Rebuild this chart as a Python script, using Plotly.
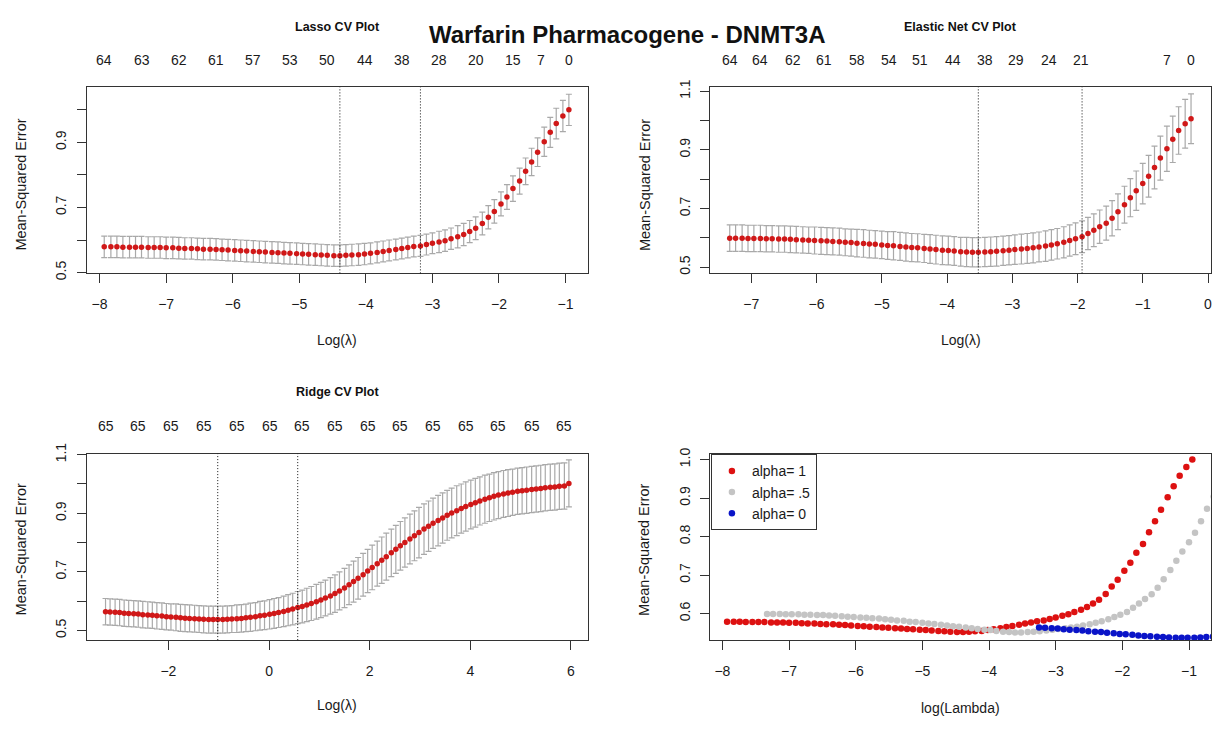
import plotly.graph_objects as go

# ---------------- data ----------------
# Lasso (alpha = 1): log(lambda), CV mean-squared error, standard error
lasso_loglam = [-0.95, -1.04, -1.14, -1.23, -1.32, -1.42, -1.51, -1.60, -1.69, -1.79,
                -1.88, -1.97, -2.07, -2.16, -2.25, -2.35, -2.44, -2.53, -2.62, -2.72,
                -2.81, -2.90, -3.00, -3.09, -3.18, -3.28, -3.37, -3.46, -3.55, -3.65,
                -3.74, -3.83, -3.93, -4.02, -4.11, -4.21, -4.30, -4.39, -4.48, -4.58,
                -4.67, -4.76, -4.86, -4.95, -5.04, -5.14, -5.23, -5.32, -5.41, -5.51,
                -5.60, -5.69, -5.79, -5.88, -5.97, -6.07, -6.16, -6.25, -6.34, -6.44,
                -6.53, -6.62, -6.72, -6.81, -6.90, -7.00, -7.09, -7.18, -7.27, -7.37,
                -7.46, -7.55, -7.65, -7.74, -7.83, -7.93]
lasso_cvm = [1.000, 0.981, 0.958, 0.931, 0.902, 0.870, 0.840, 0.811, 0.781, 0.758,
             0.732, 0.711, 0.688, 0.670, 0.651, 0.636, 0.626, 0.617, 0.610, 0.604,
             0.598, 0.594, 0.590, 0.586, 0.582, 0.580, 0.577, 0.574, 0.571, 0.568,
             0.565, 0.562, 0.559, 0.557, 0.555, 0.554, 0.553, 0.552, 0.552, 0.553,
             0.554, 0.555, 0.556, 0.557, 0.558, 0.559, 0.560, 0.561, 0.562, 0.563,
             0.564, 0.565, 0.566, 0.567, 0.568, 0.569, 0.570, 0.571, 0.572, 0.572,
             0.573, 0.574, 0.574, 0.575, 0.576, 0.576, 0.577, 0.577, 0.577, 0.578,
             0.578, 0.578, 0.578, 0.579, 0.579, 0.579]
lasso_se = [0.048, 0.048, 0.047, 0.046, 0.045, 0.044, 0.042, 0.041, 0.040, 0.039,
            0.038, 0.037, 0.036, 0.036, 0.035, 0.035, 0.034, 0.034, 0.034, 0.033,
            0.033, 0.033, 0.032, 0.032, 0.032, 0.032, 0.032, 0.032, 0.032, 0.032,
            0.032, 0.032, 0.032, 0.033, 0.033, 0.033, 0.033, 0.033, 0.033, 0.033,
            0.033, 0.033, 0.033, 0.033, 0.033, 0.033, 0.033, 0.033, 0.033, 0.033,
            0.033, 0.033, 0.033, 0.033, 0.033, 0.033, 0.033, 0.033, 0.033, 0.033,
            0.033, 0.033, 0.033, 0.033, 0.033, 0.033, 0.033, 0.033, 0.033, 0.033,
            0.033, 0.033, 0.033, 0.033, 0.033, 0.033]
lasso_lambda_min = -4.39
lasso_lambda_1se = -3.18
lasso_nz_pos = [-7.93, -7.37, -6.81, -6.25, -5.69, -5.14, -4.58, -4.02, -3.46, -2.90,
                -2.35, -1.79, -1.37, -0.95]
lasso_nz_lab = ["64", "63", "62", "61", "57", "53", "50", "44", "38", "28", "20", "15", "7", "0"]

# Elastic net (alpha = 0.5)
enet_loglam = [-0.26, -0.35, -0.45, -0.54, -0.63, -0.73, -0.82, -0.91, -1.00, -1.10,
               -1.19, -1.28, -1.38, -1.47, -1.56, -1.66, -1.75, -1.84, -1.93, -2.03,
               -2.12, -2.21, -2.31, -2.40, -2.49, -2.59, -2.68, -2.77, -2.86, -2.96,
               -3.05, -3.14, -3.24, -3.33, -3.42, -3.52, -3.61, -3.70, -3.79, -3.89,
               -3.98, -4.07, -4.17, -4.26, -4.35, -4.45, -4.54, -4.63, -4.72, -4.82,
               -4.91, -5.00, -5.10, -5.19, -5.28, -5.38, -5.47, -5.56, -5.65, -5.75,
               -5.84, -5.93, -6.03, -6.12, -6.21, -6.31, -6.40, -6.49, -6.58, -6.68,
               -6.77, -6.86, -6.96, -7.05, -7.14, -7.24, -7.33]
enet_cvm = [1.006, 0.989, 0.966, 0.936, 0.904, 0.872, 0.840, 0.810, 0.785, 0.761,
            0.737, 0.713, 0.689, 0.667, 0.650, 0.638, 0.626, 0.615, 0.604, 0.597,
            0.591, 0.585, 0.580, 0.576, 0.572, 0.569, 0.566, 0.564, 0.562, 0.560,
            0.558, 0.556, 0.554, 0.553, 0.552, 0.551, 0.551, 0.552, 0.553, 0.555,
            0.557, 0.558, 0.560, 0.562, 0.564, 0.566, 0.567, 0.569, 0.571, 0.573,
            0.574, 0.576, 0.578, 0.579, 0.581, 0.582, 0.584, 0.585, 0.587, 0.588,
            0.589, 0.590, 0.591, 0.592, 0.593, 0.594, 0.595, 0.596, 0.596, 0.597,
            0.597, 0.598, 0.598, 0.598, 0.599, 0.599, 0.599]
enet_se = [0.085, 0.083, 0.081, 0.079, 0.077, 0.075, 0.073, 0.071, 0.069, 0.067,
           0.065, 0.063, 0.061, 0.060, 0.058, 0.057, 0.056, 0.055, 0.054, 0.054,
           0.053, 0.053, 0.052, 0.052, 0.052, 0.051, 0.051, 0.051, 0.051, 0.050,
           0.050, 0.050, 0.050, 0.050, 0.050, 0.050, 0.050, 0.050, 0.049, 0.049,
           0.049, 0.049, 0.049, 0.049, 0.048, 0.048, 0.048, 0.048, 0.048, 0.048,
           0.047, 0.047, 0.047, 0.047, 0.047, 0.047, 0.046, 0.046, 0.046, 0.046,
           0.046, 0.046, 0.046, 0.045, 0.045, 0.045, 0.045, 0.045, 0.045, 0.045,
           0.045, 0.045, 0.045, 0.045, 0.045, 0.045, 0.045]
enet_lambda_min = -3.52
enet_lambda_1se = -1.93
enet_nz_pos = [-7.33, -6.86, -6.36, -5.88, -5.38, -4.89, -4.41, -3.91, -3.42, -2.94,
               -2.44, -1.94, -0.63, -0.26]
enet_nz_lab = ["64", "64", "62", "61", "58", "54", "51", "44", "38", "29", "24", "21", "7", "0"]

# Ridge (alpha = 0)
ridge_loglam = [5.96, 5.87, 5.77, 5.68, 5.59, 5.49, 5.40, 5.31, 5.22, 5.12,
                5.03, 4.94, 4.84, 4.75, 4.66, 4.56, 4.47, 4.38, 4.29, 4.19,
                4.10, 4.01, 3.91, 3.82, 3.73, 3.63, 3.54, 3.45, 3.36, 3.26,
                3.17, 3.08, 2.98, 2.89, 2.80, 2.70, 2.61, 2.52, 2.43, 2.33,
                2.24, 2.15, 2.05, 1.96, 1.87, 1.77, 1.68, 1.59, 1.50, 1.40,
                1.31, 1.22, 1.12, 1.03, 0.94, 0.84, 0.75, 0.66, 0.57, 0.47,
                0.38, 0.29, 0.19, 0.10, 0.01, -0.09, -0.18, -0.27, -0.37, -0.46,
                -0.55, -0.64, -0.74, -0.83, -0.92, -1.02, -1.11, -1.20, -1.30, -1.39,
                -1.48, -1.58, -1.67, -1.76, -1.85, -1.95, -2.04, -2.13, -2.23, -2.32,
                -2.41, -2.51, -2.60, -2.69, -2.79, -2.88, -2.97, -3.06, -3.16, -3.25]
ridge_cvm = [1.002, 0.993, 0.992, 0.990, 0.989, 0.987, 0.985, 0.983, 0.981, 0.979,
             0.977, 0.975, 0.972, 0.969, 0.966, 0.962, 0.958, 0.953, 0.948, 0.942,
             0.936, 0.930, 0.923, 0.916, 0.909, 0.901, 0.893, 0.884, 0.875, 0.866,
             0.856, 0.846, 0.834, 0.823, 0.812, 0.800, 0.789, 0.777, 0.765, 0.752,
             0.740, 0.728, 0.715, 0.703, 0.690, 0.678, 0.667, 0.656, 0.645, 0.635,
             0.626, 0.618, 0.611, 0.604, 0.598, 0.592, 0.587, 0.582, 0.578, 0.573,
             0.569, 0.565, 0.561, 0.558, 0.555, 0.552, 0.550, 0.547, 0.545, 0.543,
             0.541, 0.540, 0.539, 0.538, 0.537, 0.537, 0.537, 0.537, 0.538, 0.539,
             0.540, 0.541, 0.542, 0.543, 0.545, 0.546, 0.547, 0.549, 0.550, 0.552,
             0.553, 0.554, 0.556, 0.557, 0.558, 0.559, 0.561, 0.562, 0.563, 0.564]
ridge_se = [0.080, 0.079, 0.079, 0.079, 0.079, 0.079, 0.079, 0.079, 0.079, 0.079,
            0.079, 0.079, 0.079, 0.080, 0.080, 0.080, 0.081, 0.081, 0.082, 0.082,
            0.083, 0.083, 0.084, 0.084, 0.085, 0.085, 0.085, 0.086, 0.086, 0.086,
            0.086, 0.086, 0.086, 0.085, 0.085, 0.084, 0.083, 0.082, 0.081, 0.080,
            0.079, 0.077, 0.076, 0.074, 0.073, 0.071, 0.070, 0.068, 0.067, 0.065,
            0.064, 0.062, 0.061, 0.060, 0.059, 0.058, 0.057, 0.056, 0.055, 0.054,
            0.053, 0.052, 0.051, 0.051, 0.050, 0.049, 0.049, 0.048, 0.048, 0.047,
            0.047, 0.047, 0.046, 0.046, 0.046, 0.046, 0.046, 0.046, 0.046, 0.046,
            0.046, 0.046, 0.046, 0.046, 0.046, 0.045, 0.045, 0.045, 0.045, 0.045,
            0.045, 0.045, 0.045, 0.045, 0.045, 0.045, 0.045, 0.045, 0.045, 0.045]
ridge_lambda_min = -1.02
ridge_lambda_1se = 0.57
ridge_nz_pos = [-3.25, -2.60, -1.95, -1.30, -0.64, 0.01, 0.66, 1.31, 1.96, 2.61,
                3.26, 3.91, 4.56, 5.22, 5.87]
ridge_nz_lab = ["65"] * 15

legend_names = ["alpha= 1", "alpha= .5", "alpha= 0"]

# ---------------- layout helpers ----------------
W, H = 1216, 731


def fx(p):
    return p / W


def fy(p):
    return 1 - p / H


COL_L = [fx(87), fx(588)]
COL_R = [fx(711), fx(1212)]
ROW_T = [fy(269), fy(78)]
ROW_B = [fy(645), fy(454)]

FONT = "Liberation Sans, Arial, sans-serif"
TXT = "#1a1a1a"
LINE = "#333333"
ERR = "#a9a9a9"
RED = "#d01818"

fig = go.Figure()


def cv_panel(xa, ya, x, y, se):
    fig.add_trace(go.Scatter(
        x=x, y=y, mode="markers", xaxis=xa, yaxis=ya, showlegend=False,
        marker=dict(color=RED, size=5.5, line=dict(width=0)),
        error_y=dict(type="data", array=se, visible=True, color=ERR,
                     thickness=1.2, width=3),
        hoverinfo="x+y"))


cv_panel("x", "y", lasso_loglam, lasso_cvm, lasso_se)
cv_panel("x2", "y2", enet_loglam, enet_cvm, enet_se)
cv_panel("x3", "y3", ridge_loglam, ridge_cvm, ridge_se)

# comparison panel
for xs, ys, col, nm in [(lasso_loglam, lasso_cvm, "#dd1111", legend_names[0]),
                        (enet_loglam, enet_cvm, "#c4c4c4", legend_names[1]),
                        (ridge_loglam, ridge_cvm, "#0a14c8", legend_names[2])]:
    fig.add_trace(go.Scatter(x=xs, y=ys, mode="markers", xaxis="x4", yaxis="y4",
                             name=nm, marker=dict(color=col, size=6.5, line=dict(width=0)),
                             cliponaxis=True))

# dotted reference lines
for xref, v in [("x", lasso_lambda_min), ("x", lasso_lambda_1se),
                ("x2", enet_lambda_min), ("x2", enet_lambda_1se),
                ("x3", ridge_lambda_min), ("x3", ridge_lambda_1se)]:
    yref = {"x": "y domain", "x2": "y2 domain", "x3": "y3 domain"}[xref]
    fig.add_shape(type="line", xref=xref, yref=yref, x0=v, x1=v, y0=0, y1=1,
                  line=dict(color="#111111", width=1, dash="1px,2px"))

common = dict(showline=True, mirror=True, linecolor=LINE, linewidth=1,
              ticks="outside", ticklen=9, tickcolor=LINE, tickwidth=1,
              showgrid=False, zeroline=False,
              tickfont=dict(family=FONT, size=14, color=TXT))

fig.update_layout(
    width=W, height=H,
    margin=dict(l=0, r=0, t=0, b=0),
    paper_bgcolor="white", plot_bgcolor="white",
    font=dict(family=FONT, color=TXT),
    xaxis=dict(domain=COL_L, anchor="y", range=[-8.19, -0.67],
               tickvals=[-8, -7, -6, -5, -4, -3, -2, -1], ticklabelstandoff=9, **common),
    yaxis=dict(domain=ROW_T, anchor="x", range=[0.4975, 1.07],
               tickvals=[0.5, 0.6, 0.7, 0.8, 0.9, 1.0],
               ticktext=["0.5", "", "0.7", "", "0.9", ""], tickangle=-90,
               ticklabelstandoff=5, **common),
    xaxis2=dict(domain=COL_R, anchor="y2", range=[-7.626, 0.046],
                tickvals=[-7, -6, -5, -4, -3, -2, -1, 0], ticklabelstandoff=9, **common),
    yaxis2=dict(domain=ROW_T, anchor="x2", range=[0.479, 1.114],
                tickvals=[0.5, 0.6, 0.7, 0.8, 0.9, 1.0, 1.1],
                ticktext=["0.5", "", "0.7", "", "0.9", "", "1.1"], tickangle=-90,
                ticklabelstandoff=5, **common),
    xaxis3=dict(domain=COL_L, anchor="y3", range=[-3.62, 6.33],
                tickvals=[-2, 0, 2, 4, 6], ticklabelstandoff=9, **common),
    yaxis3=dict(domain=ROW_B, anchor="x3", range=[0.467, 1.103],
                tickvals=[0.5, 0.6, 0.7, 0.8, 0.9, 1.0, 1.1],
                ticktext=["0.5", "", "0.7", "", "0.9", "", "1.1"], tickangle=-90,
                ticklabelstandoff=5, **common),
    xaxis4=dict(domain=COL_R, anchor="y4", range=[-8.18, -0.67],
                tickvals=[-8, -7, -6, -5, -4, -3, -2, -1], ticklabelstandoff=9, **common),
    yaxis4=dict(domain=ROW_B, anchor="x4", range=[0.531, 1.015],
                tickvals=[0.6, 0.7, 0.8, 0.9, 1.0],
                ticktext=["0.6", "0.7", "0.8", "0.9", "1.0"], tickangle=-90,
                ticklabelstandoff=5, **common),
    showlegend=True,
    legend=dict(x=fx(711.5), y=fy(454.5), xanchor="left", yanchor="top",
                bgcolor="white", bordercolor=LINE, borderwidth=1,
                font=dict(family=FONT, size=14, color=TXT),
                itemsizing="trace", tracegroupgap=0, itemwidth=30),
)

ann = []
# titles
ann.append(dict(text="<b>Warfarin Pharmacogene - DNMT3A</b>", x=fx(628), y=fy(24),
                font=dict(size=24, family=FONT, color="#111")))
for t, cx, cy in [("Lasso CV Plot", 337.5, 16), ("Elastic Net CV Plot", 961.5, 16),
                  ("Ridge CV Plot", 337.5, 391)]:
    ann.append(dict(text="<b>" + t + "</b>", x=fx(cx), y=fy(cy),
                    font=dict(size=12.5, family=FONT, color="#111")))
# axis titles
for t, cx, cy in [("Log(λ)", 337.5, 337), ("Log(λ)", 961.5, 337),
                  ("Log(λ)", 337.5, 712), ("log(Lambda)", 961.5, 715)]:
    ann.append(dict(text=t, x=fx(cx), y=fy(cy), font=dict(size=14, family=FONT, color=TXT)))
for cx, cy in [(21, 178), (645, 178), (21, 552), (645, 552)]:
    ann.append(dict(text="Mean-Squared Error", x=fx(cx), y=fy(cy), textangle=-90,
                    font=dict(size=14.5, family=FONT, color=TXT)))
for a in ann:
    a.update(xref="paper", yref="paper", showarrow=False, xanchor="center", yanchor="middle")

# number of non-zero coefficients along the top
for xa, pos, lab, cy in [("x", lasso_nz_pos, lasso_nz_lab, 50),
                         ("x2", enet_nz_pos, enet_nz_lab, 50),
                         ("x3", ridge_nz_pos, ridge_nz_lab, 425)]:
    for p, l in zip(pos, lab):
        ann.append(dict(text=l, x=p, xref=xa, y=fy(cy), yref="paper", showarrow=False,
                        xanchor="center", yanchor="middle",
                        font=dict(size=14, family=FONT, color=TXT)))

fig.update_layout(annotations=ann)

fig.write_html("out.html", config={"displayModeBar": False},
               post_script="document.body.style.margin='0';document.body.style.overflow='hidden';")
